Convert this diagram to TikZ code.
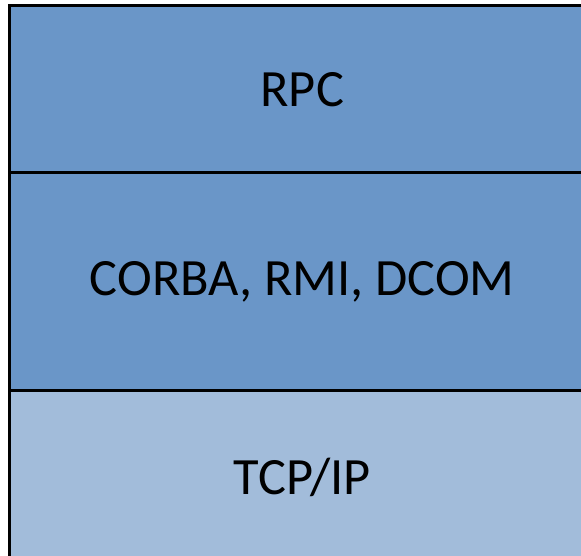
\documentclass[tikz,border=0pt]{standalone}
\usepackage{fontspec}
\setmainfont{Carlito}
\definecolor{layerdark}{RGB}{106,150,200}
\definecolor{layerlight}{RGB}{162,188,218}
\begin{document}
\begin{tikzpicture}[x=1pt,y=1pt,
  layer/.style={draw=black, line width=3pt, rectangle, inner sep=0pt,
    minimum width=585.5pt, font=\fontsize{52.4}{60}\selectfont},
]
\useasboundingbox (0,0) rectangle (581,555);
\clip (0,0) rectangle (581,555);
% protocol stack, bottom to top
\node[layer, fill=layerlight, minimum height=175pt] (tcp) at (302.25,77.5) {TCP/IP};
\node[layer, fill=layerdark, minimum height=217pt] (mid) at (302.25,273.5) {CORBA, RMI, DCOM};
\node[layer, fill=layerdark, minimum height=167pt] (rpc) at (302.25,465.5) {RPC};
\end{tikzpicture}
\end{document}
